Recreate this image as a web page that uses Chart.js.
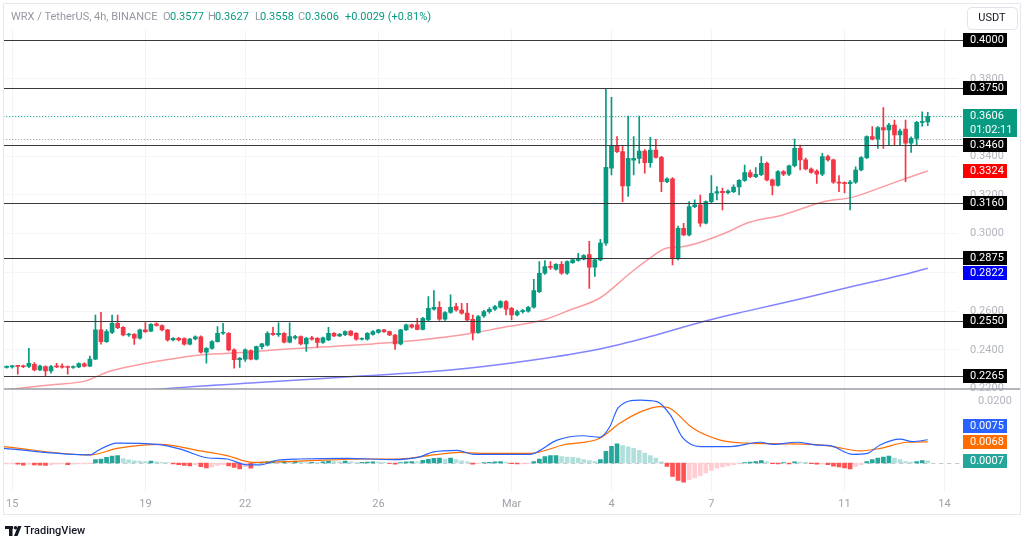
<!DOCTYPE html>
<html>
<head>
<meta charset="utf-8">
<title>WRX / TetherUS 4h</title>
<script src="https://cdn.jsdelivr.net/npm/chart.js@4.4.1/dist/chart.umd.min.js"></script>
<style>
  html, body { margin: 0; padding: 0; background: #fff; }
</style>
</head>
<body>
<canvas id="chart" width="1024" height="540"></canvas>
<script>
// 4h candles, index 1 = Feb 15 00:00
const opens = [
  .2310,.2312,.2316,.2317,.2314,.2326,.2297,.2314,.2291,.2316,
  .2314,.2311,.2309,.2312,.2328,.2316,.2352,.2503,.2443,.2490,
  .2537,.2516,.2477,.2480,.2460,.2503,.2497,.2535,.2526,.2503,
  .2451,.2460,.2458,.2429,.2456,.2468,.2388,.2408,.2443,.2486,
  .2486,.2400,.2349,.2352,.2397,.2352,.2417,.2424,.2486,.2478,
  .2486,.2440,.2462,.2469,.2431,.2462,.2460,.2438,.2452,.2486,
  .2472,.2478,.2497,.2486,.2455,.2455,.2480,.2490,.2503,.2494,
  .2477,.2431,.2503,.2529,.2529,.2506,.2555,.2610,.2620,.2558,
  .2593,.2624,.2606,.2590,.2558,.2490,.2575,.2598,.2610,.2620,
  .2649,.2615,.2580,.2598,.2600,.2620,.2701,.2796,.2830,.2817,
  .2842,.2796,.2851,.2862,.2868,.2892,.2827,.2865,.2951,.3338,
  .3453,.3424,.3247,.3380,.3389,.3427,.3367,.3432,.3394,.3269,
  .3283,.2873,.3028,.2994,.3140,.3149,.3054,.3166,.3209,.3219,
  .3212,.3217,.3241,.3275,.3316,.3295,.3305,.3364,.3278,.3250,
  .3321,.3307,.3351,.3441,.3381,.3334,.3324,.3307,.3398,.3381,
  .3266,.3263,.3259,.3266,.3329,.3393,.3501,.3489,.3548,.3536,
  .3561,.3510,.3540,.3467,.3492,.3575,.3577
];
const highs = [
  .2318,.2320,.2320,.2322,.2408,.2335,.2322,.2318,.2320,.2330,
  .2328,.2318,.2318,.2333,.2333,.2368,.2580,.2594,.2505,.2580,
  .2580,.2520,.2486,.2484,.2508,.2541,.2536,.2540,.2530,.2506,
  .2463,.2465,.2462,.2460,.2472,.2472,.2412,.2448,.2520,.2537,
  .2490,.2405,.2362,.2405,.2400,.2420,.2434,.2494,.2517,.2540,
  .2490,.2540,.2475,.2472,.2465,.2470,.2464,.2466,.2517,.2490,
  .2485,.2498,.2500,.2490,.2462,.2490,.2500,.2506,.2506,.2497,
  .2480,.2506,.2533,.2533,.2563,.2568,.2675,.2706,.2650,.2598,
  .2684,.2641,.2641,.2641,.2580,.2578,.2604,.2618,.2630,.2655,
  .2655,.2620,.2605,.2610,.2625,.2765,.2856,.2861,.2856,.2846,
  .2856,.2860,.2868,.2899,.2892,.2960,.2870,.2971,.3750,.3704,
  .3501,.3453,.3608,.3501,.3608,.3435,.3498,.3487,.3400,.3288,
  .3290,.3040,.3054,.3166,.3175,.3200,.3170,.3300,.3243,.3235,
  .3226,.3252,.3280,.3355,.3329,.3341,.3398,.3370,.3282,.3326,
  .3326,.3355,.3489,.3458,.3390,.3340,.3330,.3415,.3406,.3386,
  .3300,.3268,.3275,.3346,.3398,.3506,.3553,.3553,.3651,.3570,
  .3587,.3540,.3587,.3500,.3580,.3630,.3627
];
const lows = [
  .2305,.2306,.2274,.2308,.2308,.2292,.2293,.2265,.2280,.2308,
  .2305,.2275,.2304,.2308,.2312,.2313,.2349,.2430,.2438,.2484,
  .2510,.2472,.2470,.2428,.2455,.2490,.2494,.2522,.2498,.2445,
  .2446,.2446,.2424,.2425,.2452,.2383,.2331,.2404,.2440,.2480,
  .2395,.2305,.2310,.2340,.2348,.2348,.2405,.2420,.2475,.2470,
  .2436,.2436,.2455,.2426,.2392,.2450,.2414,.2434,.2448,.2468,
  .2468,.2474,.2472,.2450,.2450,.2450,.2476,.2486,.2490,.2474,
  .2403,.2426,.2500,.2512,.2503,.2503,.2550,.2605,.2552,.2552,
  .2588,.2600,.2585,.2550,.2452,.2485,.2568,.2590,.2604,.2615,
  .2580,.2555,.2575,.2590,.2595,.2615,.2696,.2790,.2815,.2812,
  .2790,.2790,.2846,.2858,.2864,.2718,.2779,.2860,.2940,.3303,
  .3418,.3166,.3192,.3303,.3363,.3312,.3343,.3390,.3217,.3264,
  .2839,.2864,.2990,.2989,.3135,.3037,.3050,.3160,.3175,.3123,
  .3205,.3212,.3200,.3270,.3290,.3290,.3300,.3273,.3200,.3245,
  .3300,.3300,.3345,.3329,.3329,.3312,.3260,.3300,.3375,.3260,
  .3217,.3210,.3123,.3260,.3324,.3388,.3484,.3441,.3441,.3458,
  .3458,.3458,.3269,.3420,.3458,.3555,.3558
];
const closes = [
  .2314,.2316,.2315,.2313,.2331,.2297,.2317,.2291,.2314,.2312,
  .2311,.2309,.2314,.2329,.2316,.2352,.2503,.2443,.2495,.2537,
  .2515,.2477,.2479,.2460,.2503,.2494,.2532,.2526,.2503,.2451,
  .2460,.2451,.2429,.2456,.2468,.2388,.2408,.2443,.2486,.2489,
  .2400,.2349,.2357,.2400,.2352,.2417,.2431,.2486,.2478,.2486,
  .2440,.2469,.2469,.2431,.2460,.2455,.2438,.2462,.2486,.2472,
  .2480,.2494,.2476,.2455,.2460,.2486,.2494,.2503,.2494,.2477,
  .2431,.2503,.2529,.2517,.2506,.2563,.2615,.2620,.2558,.2593,
  .2620,.2606,.2590,.2555,.2490,.2572,.2598,.2610,.2624,.2649,
  .2610,.2580,.2598,.2603,.2620,.2706,.2796,.2830,.2826,.2842,
  .2796,.2856,.2865,.2872,.2887,.2827,.2865,.2951,.3343,.3453,
  .3424,.3247,.3389,.3389,.3427,.3367,.3432,.3394,.3269,.3283,
  .2873,.3028,.2994,.3140,.3149,.3054,.3166,.3209,.3217,.3212,
  .3220,.3241,.3275,.3316,.3295,.3307,.3364,.3278,.3250,.3321,
  .3307,.3351,.3441,.3381,.3334,.3317,.3307,.3398,.3381,.3266,
  .3261,.3259,.3266,.3329,.3393,.3501,.3489,.3548,.3536,.3561,
  .3510,.3530,.3467,.3492,.3575,.3577,.3606
];
const macdHist = [
  -.0003,-.0003,-.0004,-.0007,-.0004,-.0006,-.0007,-.0008,-.0006,-.0004,
  -.0003,-.0005,-.0004,-.0003,-.0003,-.0002,.0011,.0013,.0018,.0022,
  .0024,.0014,.0010,.0007,.0006,.0005,.0006,.0004,.0002,.0001,
  -.0003,-.0005,-.0008,-.0009,-.0006,-.0012,-.0016,-.0013,-.0008,-.0005,
  -.0009,-.0014,-.0019,-.0012,-.0017,.0002,.0003,.0005,.0006,.0005,
  .0006,.0005,.0006,.0002,.0001,.0002,.0001,.0004,.0006,.0005,
  .0004,.0006,.0004,.0001,.0002,.0003,.0004,.0003,.0002,-.0001,
  -.0004,.0001,.0004,.0005,.0004,.0009,.0012,.0015,.0016,.0013,
  .0016,.0011,.0007,.0004,-.0004,-.0002,.0001,.0002,.0004,.0005,
  .0002,-.0002,-.0003,-.0003,-.0001,.0005,.0013,.0021,.0024,.0024,
  .0021,.0019,.0018,.0016,.0011,.0008,.0005,.0011,.0038,.0054,
  .0062,.0056,.0052,.0047,.0041,.0032,.0024,.0016,.0004,-.0011,
  -.0043,-.0056,-.0062,-.0054,-.0048,-.0041,-.0032,-.0024,-.0017,-.0013,
  -.0009,-.0005,-.0003,.0001,.0003,.0005,.0008,.0004,-.0002,-.0003,
  .0001,-.0003,.0004,.0003,.0002,-.0002,-.0004,-.0003,-.0005,-.0010,
  -.0013,-.0016,-.0019,-.0011,-.0005,.0005,.0011,.0016,.0019,.0022,
  .0016,.0011,.0005,.0003,.0005,.0008,.0007
];

// [candle index, value]
const ema50Pts = [[-0.6,.2192],[1.2,.2198],[7.8,.2219],[14.3,.2240],[16.9,.2271],[18.7,.2291],[25.3,.2332],[34.9,.2374],[43.9,.2389],[48,.2400],[60.1,.2420],[66,.2431],[74.5,.2451],[84.1,.2487],[88.9,.2513],[96.7,.2554],[101.5,.2606],[106.9,.2668],[112.4,.2797],[116,.2875],[119,.2926],[121.4,.2931],[128.6,.2993],[134,.3060],[139.9,.3097],[147.1,.3164],[152.5,.3189],[158.7,.3251],[162.3,.3288],[166,.3324]];
const ema200Pts = [[25.5,.2190],[27.5,.2197],[43.9,.2229],[63.9,.2265],[79.9,.2296],[94.9,.2348],[106.9,.2405],[116,.2469],[125.9,.2549],[134,.2604],[143,.2663],[152,.2725],[161,.2784],[166,.2822]];
const macdPts = [[-0.6,.0047],[15.1,.0026],[16.3,.0039],[19.9,.0064],[27.1,.0060],[31.3,.0045],[36.1,.0017],[39.7,.0013],[43.3,-.0006],[45.7,-.0006],[48.7,.0009],[52.9,.0013],[61.4,.0015],[69.6,.0011],[74.5,.0020],[76.9,.0036],[81.2,.0041],[84.1,.0028],[94.3,.0028],[99.2,.0074],[103.9,.0088],[106.9,.0083],[108.7,.0117],[110.2,.0178],[114.2,.0203],[117.2,.0198],[119.6,.0155],[121.9,.0080],[125,.0053],[130.4,.0053],[135.8,.0067],[138.1,.0060],[142.4,.0067],[146,.0058],[148.4,.0056],[152.5,.0028],[155.1,.0031],[157.4,.0058],[161,.0077],[163.3,.0069],[166,.0075]];
const signalPts = [[-0.6,.0053],[15.1,.0026],[19.9,.0047],[27.7,.0060],[34.9,.0039],[39.7,.0024],[44.4,.0002],[52.9,.0006],[65,.0013],[70.9,.0013],[76.9,.0026],[81.7,.0034],[85.3,.0031],[94.3,.0031],[100.3,.0058],[106.9,.0080],[110.5,.0128],[114.2,.0165],[117.8,.0182],[119.6,.0176],[123.7,.0112],[128.6,.0074],[133.4,.0064],[139.4,.0062],[145.3,.0060],[148.9,.0053],[153.8,.0039],[157.4,.0047],[162.3,.0067],[166,.0068]];

const levels = [0.4000, 0.3750, 0.3460, 0.3160, 0.2875, 0.2550, 0.2265];
const prevDayLine = 0.3487;
const dayTicks = [1, 25, 43, 67, 91, 109, 127, 151, 169];
const dayLabels = ['15', '19', '22', '26', 'Mar', '4', '7', '11', '14'];

const GREEN = '#089981', RED = '#f23645';
const TAG_X = 963;
const last = closes.length - 1;
const FONT = 'Roboto, "Liberation Sans", sans-serif';

const candleColors = closes.map((c, k) => c >= opens[k] ? GREEN : RED);
const histColors = macdHist.map((v, k) => {
  const prev = k > 0 ? macdHist[k - 1] : v;
  if (v >= 0) return v >= prev ? '#26a69a' : '#b2dfdb';
  return v < prev ? '#ff5252' : '#ffcdd2';
});
const pts = arr => arr.map(p => ({ x: p[0], y: p[1] }));

function hline(c, x1, x2, y) {
  c.beginPath(); c.moveTo(x1, y); c.lineTo(x2, y); c.stroke();
}

function tag(c, y, lines, bg, w) {
  c.fillStyle = bg;
  c.fillRect(TAG_X, Math.round(y) - 7, w, 14 * lines.length);
  c.fillStyle = '#fff';
  c.font = '11px ' + FONT;
  c.textAlign = 'left';
  c.textBaseline = 'middle';
  lines.forEach((t, i) => c.fillText(t, TAG_X + 7, Math.round(y) + 0.5 + i * 14));
}

const overlay = {
  id: 'overlay',
  beforeDraw(chart) {
    const c = chart.ctx;
    c.save();
    c.fillStyle = '#fff';
    c.fillRect(0, 0, chart.width, chart.height);
    c.restore();
  },
  beforeDatasetsDraw(chart) {
    const { ctx: c, chartArea: a, scales: { y, y2 } } = chart;
    c.save();
    c.lineWidth = 1;
    c.setLineDash([1, 2]);
    c.strokeStyle = GREEN;
    hline(c, a.left, TAG_X, Math.round(y.getPixelForValue(closes[last])) + 0.5);
    c.strokeStyle = '#8d9099';
    hline(c, a.left, TAG_X, Math.round(y.getPixelForValue(prevDayLine)) + 0.5);
    c.setLineDash([4, 4]);
    c.strokeStyle = '#c3c6ce';
    hline(c, a.left, TAG_X, Math.round(y2.getPixelForValue(0)) + 0.5);
    c.restore();
  },
  afterDatasetsDraw(chart) {
    const { ctx: c, chartArea: a, scales: { y } } = chart;
    c.save();
    c.strokeStyle = '#3a3a3a';
    c.lineWidth = 1.2;
    levels.forEach(v => hline(c, a.left, TAG_X, Math.round(y.getPixelForValue(v)) + 0.5));
    c.strokeStyle = '#9a9da6';
    c.lineWidth = 1.5;
    hline(c, 3, 1021, y.bottom);
    c.restore();
  },
  afterDraw(chart) {
    const { ctx: c, scales: { y, y2 } } = chart;
    c.save();

    // price tags, pushed down when they overlap
    const ptags = levels.map(v => ({ y: y.getPixelForValue(v), lines: [v.toFixed(4)], bg: '#000', w: 44 }));
    ptags.push({ y: y.getPixelForValue(closes[last]), lines: [closes[last].toFixed(4), '01:02:11'], bg: GREEN, w: 54 });
    const e50 = ema50Pts[ema50Pts.length - 1][1], e200 = ema200Pts[ema200Pts.length - 1][1];
    ptags.push({ y: y.getPixelForValue(e50), lines: [e50.toFixed(4)], bg: '#ff0000', w: 44 });
    ptags.push({ y: y.getPixelForValue(e200), lines: [e200.toFixed(4)], bg: '#0000ff', w: 44 });
    ptags.sort((p, q) => p.y - q.y);
    let bottom = -1e9;
    ptags.forEach(t => {
      if (t.y - 7 < bottom + 1) t.y = bottom + 8;
      bottom = t.y - 7 + 14 * t.lines.length;
      tag(c, t.y, t.lines, t.bg, t.w);
    });

    // MACD tags, pushed up when they overlap
    const mv = macdPts[macdPts.length - 1][1], sv = signalPts[signalPts.length - 1][1], hv = macdHist[last];
    const mtags = [
      { y: y2.getPixelForValue(mv), text: mv.toFixed(4), bg: '#2962ff' },
      { y: y2.getPixelForValue(sv), text: sv.toFixed(4), bg: '#ff6d00' },
      { y: y2.getPixelForValue(hv), text: hv.toFixed(4), bg: '#26a69a' }
    ].sort((p, q) => q.y - p.y);
    let top = 1e9;
    mtags.forEach(t => {
      if (t.y + 7 > top - 2) t.y = top - 9;
      top = t.y - 7;
      tag(c, t.y, [t.text], t.bg, 44);
    });

    // header legend
    c.font = '11px ' + FONT;
    c.textBaseline = 'middle';
    c.textAlign = 'left';
    const chg = closes[last] - closes[last - 1];
    const pct = chg / closes[last - 1] * 100;
    const head = [
      ['WRX / TetherUS, 4h, BINANCE', 11, '#9598a1'],
      ['O', 163, '#9598a1'], [opens[last].toFixed(4), 170, GREEN],
      ['H', 208, '#9598a1'], [highs[last].toFixed(4), 215, GREEN],
      ['L', 255, '#9598a1'], [lows[last].toFixed(4), 260, GREEN],
      ['C', 298, '#9598a1'], [closes[last].toFixed(4), 305, GREEN],
      ['+' + chg.toFixed(4) + ' (+' + pct.toFixed(2) + '%)', 345, GREEN]
    ];
    head.forEach(([t, x, col]) => { c.fillStyle = col; c.fillText(t, x, 17); });

    // currency button
    c.strokeStyle = '#e0e3eb';
    c.lineWidth = 1;
    c.beginPath();
    c.roundRect(967.5, 7.5, 50, 22, 4);
    c.stroke();
    c.fillStyle = '#131722';
    c.textAlign = 'center';
    c.fillText('USDT', 992, 18.5);

    // outer frame
    c.strokeStyle = '#e6e8ee';
    c.strokeRect(3.5, 3.5, 1017, 511);

    // TradingView mark
    c.fillStyle = '#131722';
    c.fillRect(5, 526, 8, 3);
    c.fillRect(9, 526, 3.5, 10);
    c.beginPath(); c.arc(15.5, 527.8, 1.8, 0, Math.PI * 2); c.fill();
    c.beginPath();
    c.moveTo(18, 526); c.lineTo(21.5, 526); c.lineTo(17.5, 536); c.lineTo(14, 536);
    c.closePath(); c.fill();
    c.textAlign = 'left';
    c.font = '500 11px ' + FONT;
    c.fillText('TradingView', 24, 531.5);
    c.restore();
  }
};

const tickFont = { family: FONT, size: 11 };

new Chart(document.getElementById('chart').getContext('2d'), {
  type: 'bar',
  data: {
    datasets: [
      {
        type: 'line', data: pts(ema50Pts), yAxisID: 'y',
        borderColor: 'rgba(247, 90, 100, 0.6)', borderWidth: 1.5,
        pointRadius: 0, cubicInterpolationMode: 'monotone', order: 3
      },
      {
        type: 'line', data: pts(ema200Pts), yAxisID: 'y',
        borderColor: 'rgba(50, 50, 255, 0.6)', borderWidth: 1.5,
        pointRadius: 0, cubicInterpolationMode: 'monotone', order: 3
      },
      {
        data: highs.map((h, k) => ({ x: k, y: [lows[k], h] })), yAxisID: 'y',
        backgroundColor: candleColors, barThickness: 1, grouped: false, order: 2
      },
      {
        data: opens.map((o, k) => ({ x: k, y: [Math.min(o, closes[k]), Math.max(o, closes[k])] })), yAxisID: 'y',
        backgroundColor: candleColors, barThickness: 4, minBarLength: 1, grouped: false, order: 1
      },
      {
        data: macdHist.map((v, k) => ({ x: k, y: v })), yAxisID: 'y2',
        backgroundColor: histColors, barThickness: 4, grouped: false, order: 2
      },
      {
        type: 'line', data: pts(macdPts), yAxisID: 'y2',
        borderColor: '#2962ff', borderWidth: 1.2,
        pointRadius: 0, cubicInterpolationMode: 'monotone', order: 1
      },
      {
        type: 'line', data: pts(signalPts), yAxisID: 'y2',
        borderColor: '#ff6d00', borderWidth: 1.2,
        pointRadius: 0, cubicInterpolationMode: 'monotone', order: 1
      }
    ]
  },
  options: {
    responsive: false,
    animation: false,
    events: [],
    layout: { padding: { left: 3, right: 3, top: 30, bottom: 25 } },
    plugins: { legend: { display: false }, tooltip: { enabled: false } },
    scales: {
      x: {
        type: 'linear', min: -0.62, max: 171.45, offset: false,
        grid: { color: '#f2f3f6', drawTicks: false, offset: false },
        border: { display: false },
        afterBuildTicks: s => { s.ticks = dayTicks.map(v => ({ value: v })); },
        afterFit: s => { s.height = 23; },
        ticks: {
          autoSkip: false, maxRotation: 0, padding: 6, color: '#9ea2ab', font: tickFont,
          callback: (v, i) => dayLabels[i]
        }
      },
      y: {
        type: 'linear', position: 'right', stack: 'panes', stackWeight: 359, weight: 1,
        min: 0.2198, max: 0.4052,
        grid: { color: '#f4f5f8', drawTicks: false },
        border: { display: false },
        afterFit: s => { s.width = 63; },
        ticks: {
          stepSize: 0.02, includeBounds: false, padding: 12, color: '#b2b5be', font: tickFont,
          callback: v => Number(v).toFixed(4)
        }
      },
      y2: {
        type: 'linear', position: 'right', stack: 'panes', stackWeight: 103, weight: 2,
        min: -0.00935, max: 0.02387,
        grid: { display: false },
        border: { display: false },
        afterFit: s => { s.width = 63; },
        afterBuildTicks: s => { s.ticks = [{ value: 0.02 }]; },
        ticks: {
          padding: 12, color: '#b2b5be', font: tickFont,
          callback: v => Number(v).toFixed(4)
        }
      }
    }
  },
  plugins: [overlay]
});
</script>
</body>
</html>
